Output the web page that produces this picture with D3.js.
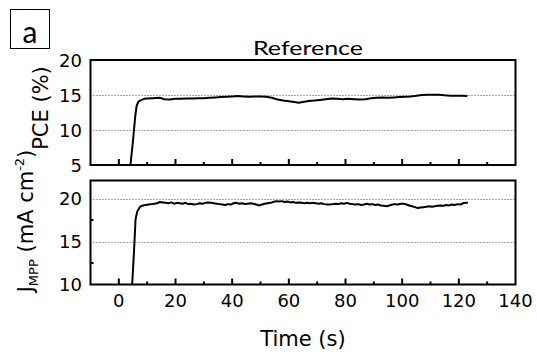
<!DOCTYPE html>
<html>
<head>
<meta charset="utf-8">
<script src="https://cdn.jsdelivr.net/npm/d3@7"></script>
<style>
  html, body { margin: 0; padding: 0; background: #fff; }
  svg { display: block; }
</style>
</head>
<body>
<svg id="chart" width="537" height="359"></svg>
<script>
// Tracking data: PCE and current density at the maximum power point vs. time
const pceTime = [4.1, 5.0, 5.8, 6.3, 7.0, 8, 9, 10, 12, 14, 15, 16, 18, 20, 22, 24, 26, 28, 30, 32, 34, 36, 38, 40, 42, 44, 46, 48, 50, 52, 54, 56, 58, 60, 62, 63.5, 65, 67, 69, 71, 73, 75, 77, 79, 81, 83, 85, 87, 89, 91, 93, 95, 97, 99, 101, 103, 105, 107, 109, 111, 113, 115, 117, 119, 121, 123];
const pceValue = [5.0, 8.5, 12.0, 13.5, 14.1, 14.3, 14.45, 14.5, 14.55, 14.6, 14.55, 14.4, 14.35, 14.45, 14.45, 14.5, 14.5, 14.55, 14.55, 14.6, 14.65, 14.7, 14.75, 14.8, 14.85, 14.8, 14.75, 14.8, 14.8, 14.75, 14.6, 14.35, 14.2, 14.1, 14.0, 13.9, 14.0, 14.15, 14.2, 14.3, 14.4, 14.5, 14.45, 14.4, 14.45, 14.4, 14.35, 14.4, 14.55, 14.6, 14.65, 14.6, 14.65, 14.7, 14.75, 14.8, 14.9, 15.0, 15.05, 15.05, 15.05, 14.95, 14.9, 14.9, 14.9, 14.85];

const jTime = [4.7, 5.3, 5.9, 6.5, 7.5, 8.5, 9.5, 10.5, 11.5, 12.5, 13.5, 14.5, 15.5, 16.5, 17.5, 18.5, 19.5, 20.5, 21.5, 22.5, 23.5, 24.5, 25.5, 26.5, 27.5, 28.5, 29.5, 30.5, 31.5, 32.5, 33.5, 34.5, 35.5, 36.5, 37.5, 38.5, 39.5, 40.5, 41.5, 42.5, 43.5, 44.5, 45.5, 46.5, 47.5, 48.5, 49.5, 50.5, 51.5, 52.5, 53.5, 54.5, 55.5, 56.5, 57.5, 58.5, 59.5, 60.5, 61.5, 62.5, 63.5, 64.5, 65.5, 66.5, 67.5, 68.5, 69.5, 70.5, 71.5, 72.5, 73.5, 74.5, 75.5, 76.5, 77.5, 78.5, 79.5, 80.5, 81.5, 82.5, 83.5, 84.5, 85.5, 86.5, 87.5, 88.5, 89.5, 90.5, 91.5, 92.5, 93.5, 94.5, 95.5, 96.5, 97.5, 98.5, 99.5, 100.5, 101.5, 102.5, 103.5, 104.5, 105.5, 106.5, 107.5, 108.5, 109.5, 110.5, 111.5, 112.5, 113.5, 114.5, 115.5, 116.5, 117.5, 118.5, 119.5, 120.5, 121.5, 122.5, 123.2];
const jValue = [10.0, 13.5, 17.6, 18.5, 19.05, 19.2, 19.25, 19.3, 19.35, 19.4, 19.45, 19.6, 19.55, 19.5, 19.45, 19.55, 19.4, 19.5, 19.45, 19.4, 19.5, 19.35, 19.4, 19.3, 19.35, 19.45, 19.4, 19.5, 19.55, 19.5, 19.45, 19.4, 19.35, 19.3, 19.25, 19.35, 19.3, 19.45, 19.5, 19.4, 19.45, 19.35, 19.4, 19.45, 19.4, 19.3, 19.2, 19.3, 19.4, 19.45, 19.5, 19.6, 19.7, 19.65, 19.7, 19.6, 19.65, 19.55, 19.6, 19.5, 19.55, 19.5, 19.45, 19.5, 19.45, 19.5, 19.45, 19.4, 19.45, 19.35, 19.3, 19.3, 19.35, 19.4, 19.35, 19.45, 19.4, 19.5, 19.4, 19.35, 19.3, 19.35, 19.25, 19.3, 19.4, 19.3, 19.35, 19.25, 19.3, 19.2, 19.15, 19.1, 19.2, 19.3, 19.35, 19.3, 19.4, 19.4, 19.3, 19.2, 19.1, 19.0, 18.9, 18.95, 19.0, 19.05, 19.1, 19.05, 19.1, 19.15, 19.2, 19.15, 19.25, 19.2, 19.3, 19.25, 19.35, 19.3, 19.45, 19.5, 19.5];

const xMajorTicks = [0, 20, 40, 60, 80, 100, 120, 140];
const xMinorTicks = [10, 30, 50, 70, 90, 110, 130];
const pceTicks = [5, 10, 15, 20];
const pceGrid = [10, 15];
const jTicks = [10, 15, 20];
const jGrid = [15, 20];
const jMinorTicks = [12.5, 17.5];

const svg = d3.select("#chart");
const tickFont = "DejaVu Sans, Liberation Sans, Arial, sans-serif";

const x = d3.scaleLinear().domain([-10, 140]).range([90.5, 515.5]);
const yPce = d3.scaleLinear().domain([5, 20]).range([165, 60]);
const yJ = d3.scaleLinear().domain([10, 22.1]).range([284.5, 180.5]);

function panel(y, ticks, grid, minorY, values, times, clipId) {
  const [y0, y1] = y.range();
  const g = svg.append("g");

  g.append("clipPath").attr("id", clipId)
    .append("rect").attr("x", x.range()[0]).attr("y", y1)
    .attr("width", x.range()[1] - x.range()[0]).attr("height", y0 - y1);

  // dotted grid lines
  g.selectAll(".grid").data(grid).enter().append("line")
    .attr("x1", x.range()[0]).attr("x2", x.range()[1])
    .attr("y1", d => Math.round(y(d)) + 0.5).attr("y2", d => Math.round(y(d)) + 0.5)
    .attr("stroke", "#555").attr("stroke-width", 1).attr("stroke-dasharray", "1,2");

  // inward x ticks along the bottom edge
  g.selectAll(".xmaj").data(xMajorTicks.filter(d => d < 140)).enter().append("line")
    .attr("x1", d => x(d)).attr("x2", d => x(d))
    .attr("y1", y0).attr("y2", y0 - 6)
    .attr("stroke", "#000").attr("stroke-width", 2);
  g.selectAll(".xmin").data(xMinorTicks).enter().append("line")
    .attr("x1", d => x(d)).attr("x2", d => x(d))
    .attr("y1", y0).attr("y2", y0 - 3)
    .attr("stroke", "#000").attr("stroke-width", 2);

  // inward minor y ticks
  g.selectAll(".ymin").data(minorY).enter().append("line")
    .attr("x1", x.range()[0]).attr("x2", x.range()[0] + 3)
    .attr("y1", d => y(d)).attr("y2", d => y(d))
    .attr("stroke", "#000").attr("stroke-width", 2);

  // y tick labels
  g.selectAll(".ylab").data(ticks).enter().append("text")
    .attr("x", 82).attr("y", d => y(d))
    .attr("text-anchor", "end").attr("dominant-baseline", "central")
    .attr("font-family", tickFont).attr("font-size", 18)
    .attr("fill", "#000").text(d => d);

  // data trace
  const line = d3.line().x(d => x(d[0])).y(d => y(d[1]));
  g.append("path")
    .datum(times.map((t, i) => [t, values[i]]))
    .attr("clip-path", `url(#${clipId})`)
    .attr("d", line)
    .attr("fill", "none").attr("stroke", "#000")
    .attr("stroke-width", 2).attr("stroke-linejoin", "round");

  // frame
  g.append("rect")
    .attr("x", x.range()[0]).attr("y", y1)
    .attr("width", x.range()[1] - x.range()[0]).attr("height", y0 - y1)
    .attr("fill", "none").attr("stroke", "#000").attr("stroke-width", 2);
}

panel(yPce, pceTicks, pceGrid, [], pceValue, pceTime, "clipPce");
panel(yJ, jTicks, jGrid, jMinorTicks, jValue, jTime, "clipJ");

// x tick labels under the lower panel
svg.selectAll(".xlab").data(xMajorTicks).enter().append("text")
  .attr("x", d => x(d)).attr("y", 307)
  .attr("text-anchor", "middle")
  .attr("font-family", tickFont).attr("font-size", 18)
  .attr("fill", "#000").text(d => d);

// axis titles
svg.append("text")
  .attr("x", 303).attr("y", 345.5).attr("text-anchor", "middle")
  .attr("font-family", tickFont).attr("font-size", 21).attr("fill", "#000")
  .text("Time (s)");

svg.append("text")
  .attr("transform", "translate(48,108) rotate(-90)")
  .attr("text-anchor", "middle")
  .attr("font-family", tickFont).attr("font-size", 21).attr("fill", "#000")
  .text("PCE (%)");

const jLabel = svg.append("text")
  .attr("transform", "translate(33,221) rotate(-90)")
  .attr("text-anchor", "middle")
  .attr("font-family", tickFont).attr("font-size", 21).attr("fill", "#000");
jLabel.append("tspan").text("J");
jLabel.append("tspan").attr("font-size", 13).attr("dy", 5).text("MPP");
jLabel.append("tspan").attr("dy", -5).text(" (mA cm");
jLabel.append("tspan").attr("font-size", 13).attr("dy", -9).text("-2");
jLabel.append("tspan").attr("dy", 9).text(")");

// panel title
svg.append("text")
  .attr("x", 253).attr("y", 55)
  .attr("font-family", "Lato, Open Sans, sans-serif").attr("font-size", 19)
  .attr("textLength", 110).attr("lengthAdjust", "spacingAndGlyphs")
  .attr("fill", "#000").text("Reference");

// panel letter in a box
svg.append("rect")
  .attr("x", 10.5).attr("y", 9.5).attr("width", 39).attr("height", 39)
  .attr("fill", "#fff").attr("stroke", "#000").attr("stroke-width", 1);
svg.append("text")
  .attr("x", 30).attr("y", 43).attr("text-anchor", "middle")
  .attr("font-family", "Lato, Open Sans, sans-serif").attr("font-size", 30)
  .attr("fill", "#000").text("a");
</script>
</body>
</html>
